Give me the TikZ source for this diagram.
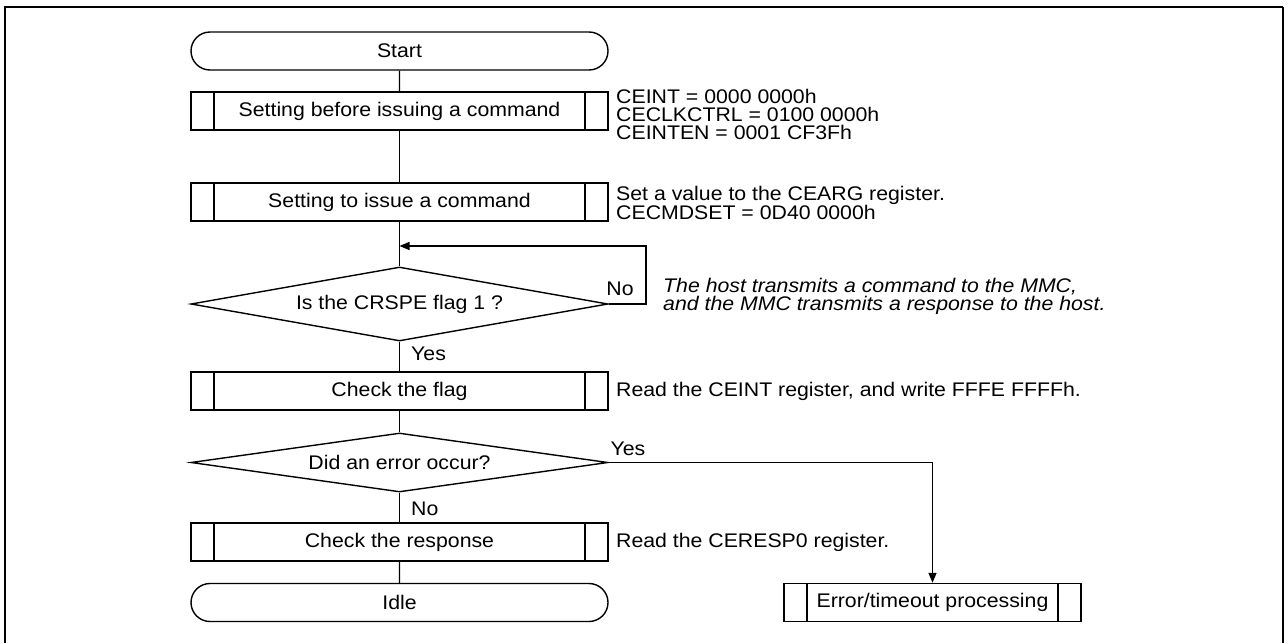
\documentclass[tikz,border=0pt]{standalone}
\usepackage{fontspec}
\setmainfont{Liberation Sans}[FakeStretch=1.08]
\usetikzlibrary{shapes.geometric,shapes.misc,arrows.meta}
\tikzset{
  base/.style={font=\fontsize{19.7}{18}\selectfont, line width=1.4pt},
  term/.style={base, draw, rounded rectangle, minimum width=417pt, minimum height=38pt, inner sep=0pt},
  proc/.style={base, draw, rectangle, minimum width=#1, minimum height=38pt, inner sep=0pt,
    path picture={
      \draw[line width=1.4pt] ([xshift=23pt]path picture bounding box.north west) -- ([xshift=23pt]path picture bounding box.south west);
      \draw[line width=1.4pt] ([xshift=-23pt]path picture bounding box.north east) -- ([xshift=-23pt]path picture bounding box.south east);
    }},
  proc/.default=417pt,
  dec/.style={base, draw, diamond, minimum width=417pt, minimum height=#1, inner sep=0pt, aspect=5},
  note/.style={font=\fontsize{19.7}{18}\selectfont, align=left, anchor=west, inner sep=0pt},
  lbl/.style={font=\fontsize{19.7}{18}\selectfont, inner sep=0pt},
  conn/.style={line width=1.4pt},
  arr/.style={line width=1.4pt, -{Triangle[length=10pt,width=8pt]}},
}
\begin{document}
\begin{tikzpicture}[x=1pt,y=-1pt]
\useasboundingbox (0,0) rectangle (1288,643);
% frame
\draw[line width=2.6pt] (5,643) -- (5,7) -- (1283,7);
\draw[line width=1.2pt] (1283,7) -- (1283,643);
% nodes
\node[term] (start) at (399.5,51) {Start};
\node[proc] (b1) at (399.5,111) {Setting before issuing a command};
\node[proc] (b2) at (399.5,202) {Setting to issue a command};
\node[dec=74pt] (d1) at (399.5,304) {Is the CRSPE flag 1 ?};
\node[proc] (b3) at (399.5,391) {Check the flag};
\node[dec=59pt] (d2) at (399.5,462.5) {Did an error occur?};
\node[proc] (b4) at (399.5,542) {Check the response};
\node[term] (idle) at (399.5,602.5) {Idle};
\node[proc=297pt] (err) at (932.5,602.5) {Error/timeout processing};
% notes
\node[note] (n1) at (616,114) {CEINT = 0000 0000h\\CECLKCTRL = 0100 0000h\\CEINTEN = 0001 CF3Fh};
\node[note] (n2) at (616,203) {Set a value to the CEARG register.\\CECMDSET = 0D40 0000h};
\node[note] (n3) at (663,296) {\itshape The host transmits a command to the MMC,\\\itshape and the MMC transmits a response to the host.};
\node[note] (n4) at (616,391) {Read the CEINT register, and write FFFE FFFFh.};
\node[note] (n5) at (616,542) {Read the CERESP0 register.};
% connectors
\draw[conn] (start) -- (b1);
\draw[conn] (b1) -- (b2);
\draw[conn] (b2) -- (d1);
\draw[conn] (d1) -- (b3);
\draw[conn] (b3) -- (d2);
\draw[conn] (d2) -- (b4);
\draw[conn] (b4) -- (idle);
\coordinate (lp) at (646,246);
\draw[arr] (d1.east) -| (lp) -- (lp -| b2.south);
\draw[arr] (d2.east) -| (err.north);
% labels
\node[lbl] (no1) at (620,289) {No};
\node[lbl, anchor=west] (yes1) at (411,354) {Yes};
\node[lbl] (yes2) at (628,449) {Yes};
\node[lbl, anchor=west] (no2) at (411,509) {No};
\end{tikzpicture}
\end{document}
